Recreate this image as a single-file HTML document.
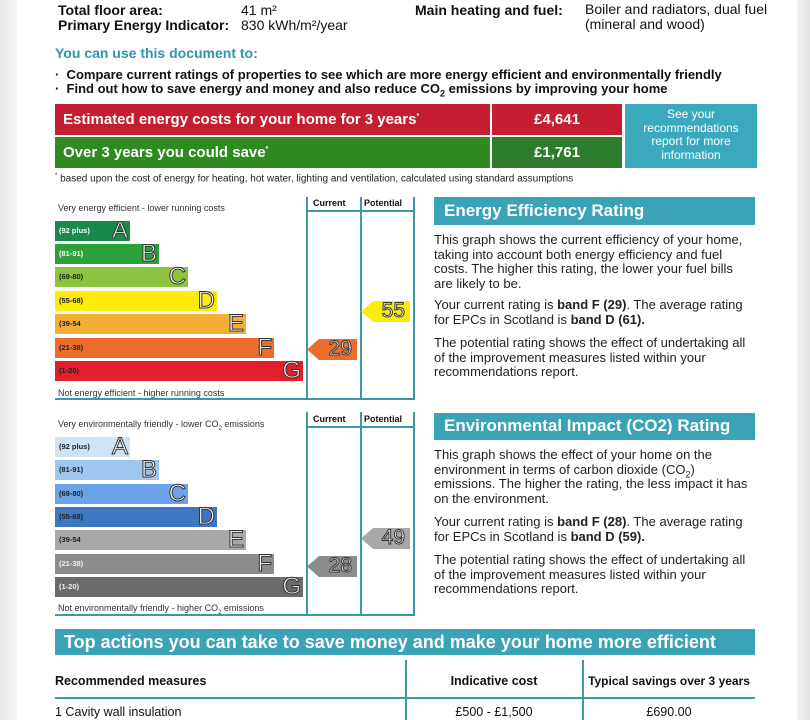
<!DOCTYPE html>
<html><head><meta charset="utf-8"><style>
*{margin:0;padding:0;box-sizing:border-box}
body{width:810px;height:720px;overflow:hidden;background:#fff;font-family:"Liberation Sans",sans-serif;position:relative;color:#111}
.a{position:absolute;white-space:nowrap}
.edgeL{left:0;top:0;width:17px;height:720px;background:linear-gradient(90deg,#e6e6e8,#f4f4f6)}
.edgeR{left:797px;top:0;width:13px;height:720px;background:linear-gradient(90deg,#f2f2f4,#e4e4e6)}
.bar{position:absolute;height:20px}
.bar .r{position:absolute;left:4px;top:5px;font-size:7.5px;font-weight:bold;color:#222}
.bar .l{position:absolute;right:2px;top:-4px;font-size:24px;color:#fff;-webkit-text-stroke:1px #333}
.ln{position:absolute;background:#3a9aa8}
.arrow{position:absolute;height:21px}
.arrow span{position:absolute;right:5px;top:-2px;font-size:21px;color:#fff;-webkit-text-stroke:1px #333}
.p{position:absolute;left:434px;font-size:13px;line-height:14.5px;color:#222;width:316px}
.p sub{line-height:0;font-size:9px}
.hdr{position:absolute;background:#3aa3b5;color:#fff;font-weight:bold}
.sm{font-size:9px;color:#333}
</style></head><body>
<div class="a edgeL"></div><div class="a edgeR"></div>

<div class="a" style="left:58px;top:2px;font-size:14px;font-weight:bold">Total floor area:</div>
<div class="a" style="left:241px;top:2px;font-size:14px">41 m²</div>
<div class="a" style="left:58px;top:17px;font-size:14px;font-weight:bold">Primary Energy Indicator:</div>
<div class="a" style="left:241px;top:17px;font-size:14px">830 kWh/m²/year</div>
<div class="a" style="left:415px;top:2px;font-size:14px;font-weight:bold">Main heating and fuel:</div>
<div class="a" style="left:585px;top:2px;font-size:14px;line-height:15px">Boiler and radiators, dual fuel<br>(mineral and wood)</div>

<div class="a" style="left:55px;top:45px;font-size:14px;font-weight:bold;color:#2e95a8">You can use this document to:</div>
<div class="a" style="left:55px;top:67px;font-size:13px;font-weight:bold">· &nbsp;Compare current ratings of properties to see which are more energy efficient and environmentally friendly</div>
<div class="a" style="left:55px;top:81px;font-size:13px;font-weight:bold">· &nbsp;Find out how to save energy and money and also reduce CO<sub style="font-size:9px;line-height:0">2</sub> emissions by improving your home</div>

<div class="a" style="left:55px;top:104px;width:435px;height:31px;background:#c41e30;color:#fff;font-size:15px;font-weight:bold;padding:7px 8px">Estimated energy costs for your home for 3 years<sup style="font-size:7px">*</sup></div>
<div class="a" style="left:492px;top:104px;width:130px;height:31px;background:#c41e30;color:#fff;font-size:15px;font-weight:bold;text-align:center;padding-top:7px">£4,641</div>
<div class="a" style="left:55px;top:137px;width:435px;height:31px;background:#2e8b1f;color:#fff;font-size:15px;font-weight:bold;padding:7px 8px">Over 3 years you could save<sup style="font-size:7px">*</sup></div>
<div class="a" style="left:492px;top:137px;width:130px;height:31px;background:#2e7d2e;color:#fff;font-size:15px;font-weight:bold;text-align:center;padding-top:7px">£1,761</div>
<div class="a" style="left:625px;top:104px;width:132px;height:64px;background:#3aa9bd;color:#fff;font-size:12px;text-align:center;line-height:13.5px;padding-top:4px;white-space:normal">See your<br>recommendations<br>report for more<br>information</div>
<div class="a" style="left:55px;top:173px;font-size:10px;color:#222"><sup style="font-size:6px">*</sup> based upon the cost of energy for heating, hot water, lighting and ventilation, calculated using standard assumptions</div>

<!-- chart 1 -->
<div class="ln" style="left:306px;top:197px;width:1.5px;height:203px"></div>
<div class="ln" style="left:360px;top:197px;width:1.5px;height:203px"></div>
<div class="ln" style="left:413px;top:197px;width:1.5px;height:203px"></div>
<div class="ln" style="left:306px;top:210px;width:108px;height:1.5px"></div>
<div class="ln" style="left:55px;top:398px;width:359px;height:1.5px"></div>
<div class="a" style="left:313px;top:198px;font-size:9px;font-weight:bold">Current</div>
<div class="a" style="left:364px;top:198px;font-size:9px;font-weight:bold">Potential</div>
<div class="a sm" style="left:58px;top:203px">Very energy efficient - lower running costs</div>
<div class="a sm" style="left:58px;top:388px">Not energy efficient - higher running costs</div>
<div class="bar" style="left:55px;top:221px;width:75px;background:#188a4a"><span class="r" style="color:#fff">(92 plus)</span><span class="l">A</span></div>
<div class="bar" style="left:55px;top:244px;width:104px;background:#2aa13b"><span class="r" style="color:#fff">(81-91)</span><span class="l">B</span></div>
<div class="bar" style="left:55px;top:267px;width:133px;background:#8cc43f"><span class="r">(69-80)</span><span class="l">C</span></div>
<div class="bar" style="left:55px;top:291px;width:162px;background:#fdeb0a"><span class="r">(55-68)</span><span class="l">D</span></div>
<div class="bar" style="left:55px;top:314px;width:191px;background:#f4ad35"><span class="r">(39-54</span><span class="l">E</span></div>
<div class="bar" style="left:55px;top:338px;width:219px;background:#ec6c2b"><span class="r">(21-38)</span><span class="l">F</span></div>
<div class="bar" style="left:55px;top:361px;width:248px;background:#e21f2d"><span class="r">(1-20)</span><span class="l">G</span></div>
<div class="arrow" style="left:307px;top:339px;width:50px;background:#ec6c2b;clip-path:polygon(0 50%,12px 0,100% 0,100% 100%,12px 100%)"><span>29</span></div>
<div class="arrow" style="left:361px;top:301px;width:49px;background:#fdeb0a;clip-path:polygon(0 50%,12px 0,100% 0,100% 100%,12px 100%)"><span>55</span></div>

<div class="hdr" style="left:434px;top:197px;width:321px;height:28px;font-size:17px;padding:4px 10px">Energy Efficiency Rating</div>
<div class="p" style="top:233px">This graph shows the current efficiency of your home, taking into account both energy efficiency and fuel costs. The higher this rating, the lower your fuel bills are likely to be.</div>
<div class="p" style="top:298px">Your current rating is <b>band F (29)</b>. The average rating for EPCs in Scotland is <b>band D (61).</b></div>
<div class="p" style="top:336px">The potential rating shows the effect of undertaking all of the improvement measures listed within your recommendations report.</div>

<!-- chart 2 -->
<div class="ln" style="left:306px;top:412px;width:1.5px;height:204px"></div>
<div class="ln" style="left:360px;top:412px;width:1.5px;height:204px"></div>
<div class="ln" style="left:413px;top:412px;width:1.5px;height:204px"></div>
<div class="ln" style="left:306px;top:426px;width:108px;height:1.5px"></div>
<div class="ln" style="left:55px;top:614px;width:359px;height:1.5px"></div>
<div class="a" style="left:313px;top:414px;font-size:9px;font-weight:bold">Current</div>
<div class="a" style="left:364px;top:414px;font-size:9px;font-weight:bold">Potential</div>
<div class="a sm" style="left:58px;top:419px">Very environmentally friendly - lower CO<sub style="font-size:6px">2</sub> emissions</div>
<div class="a sm" style="left:58px;top:603px">Not environmentally friendly - higher CO<sub style="font-size:6px">2</sub> emissions</div>
<div class="bar" style="left:55px;top:437px;width:75px;background:#cfe3f6"><span class="r">(92 plus)</span><span class="l">A</span></div>
<div class="bar" style="left:55px;top:460px;width:104px;background:#9ec6ee"><span class="r">(81-91)</span><span class="l">B</span></div>
<div class="bar" style="left:55px;top:484px;width:133px;background:#6aa3ea"><span class="r">(69-80)</span><span class="l">C</span></div>
<div class="bar" style="left:55px;top:507px;width:162px;background:#3f77c2"><span class="r">(55-68)</span><span class="l">D</span></div>
<div class="bar" style="left:55px;top:530px;width:191px;background:#a8a8a8"><span class="r">(39-54</span><span class="l">E</span></div>
<div class="bar" style="left:55px;top:554px;width:219px;background:#8c8c8c"><span class="r" style="color:#eee">(21-38)</span><span class="l">F</span></div>
<div class="bar" style="left:55px;top:577px;width:248px;background:#6b6b6b"><span class="r" style="color:#eee">(1-20)</span><span class="l">G</span></div>
<div class="arrow" style="left:307px;top:556px;width:50px;background:#8c8c8c;clip-path:polygon(0 50%,12px 0,100% 0,100% 100%,12px 100%)"><span>28</span></div>
<div class="arrow" style="left:361px;top:528px;width:49px;background:#a8a8a8;clip-path:polygon(0 50%,12px 0,100% 0,100% 100%,12px 100%)"><span>49</span></div>

<div class="hdr" style="left:434px;top:413px;width:321px;height:27px;font-size:17px;padding:3px 10px">Environmental Impact (CO2) Rating</div>
<div class="p" style="top:448px">This graph shows the effect of your home on the environment in terms of carbon dioxide (CO<sub>2</sub>) emissions. The higher the rating, the less impact it has on the environment.</div>
<div class="p" style="top:515px">Your current rating is <b>band F (28)</b>. The average rating for EPCs in Scotland is <b>band D (59).</b></div>
<div class="p" style="top:553px">The potential rating shows the effect of undertaking all of the improvement measures listed within your recommendations report.</div>

<!-- bottom -->
<div class="hdr" style="left:55px;top:629px;width:700px;height:26px;font-size:18px;padding:3px 9px">Top actions you can take to save money and make your home more efficient</div>
<div class="ln" style="left:405px;top:660px;width:1.5px;height:60px"></div>
<div class="ln" style="left:582px;top:660px;width:1.5px;height:60px"></div>
<div class="ln" style="left:55px;top:697px;width:700px;height:1.5px"></div>
<div class="a" style="left:55px;top:674px;font-size:12.5px;font-weight:bold">Recommended measures</div>
<div class="a" style="left:406px;top:674px;width:176px;text-align:center;font-size:12.5px;font-weight:bold">Indicative cost</div>
<div class="a" style="left:583px;top:674px;width:172px;text-align:center;font-size:12px;font-weight:bold">Typical savings over 3 years</div>
<div class="a" style="left:55px;top:705px;font-size:12.5px">1 Cavity wall insulation</div>
<div class="a" style="left:406px;top:705px;width:176px;text-align:center;font-size:12.5px">£500 - £1,500</div>
<div class="a" style="left:583px;top:705px;width:172px;text-align:center;font-size:12.5px">£690.00</div>
</body></html>
